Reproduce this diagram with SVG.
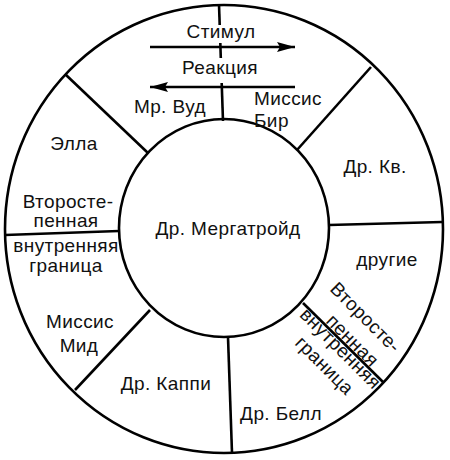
<svg xmlns="http://www.w3.org/2000/svg" width="450" height="460" viewBox="0 0 450 460">
<defs>
<style>
.ln{fill:none;stroke:#000;stroke-width:2.6;stroke-linecap:butt}
.t{font-family:"Liberation Sans",Arial,sans-serif;font-size:19px;fill:#111;text-anchor:middle;letter-spacing:0.4px}
.ts{text-anchor:start}
.ar{fill:none;stroke:#000;stroke-width:2.6}
</style>
<marker id="ah" markerUnits="userSpaceOnUse" markerWidth="20" markerHeight="12" refX="18" refY="5" orient="auto">
<path d="M0,0 L18,5 L0,10 L3,5 z" fill="#000"/>
</marker>
</defs>
<rect width="450" height="460" fill="#fff"/>
<g id="outer-ring">
<ellipse class="ln" cx="224" cy="229" rx="219" ry="224"/>
<line class="ln" x1="65" y1="74" x2="148" y2="153"/>
<line class="ln" x1="371" y1="67" x2="297" y2="150"/>
<line class="ln" x1="329" y1="225" x2="442" y2="222"/>
<line class="ln" x1="303" y1="303" x2="383" y2="382"/>
<line class="ln" x1="228" y1="337" x2="232" y2="453"/>
<line class="ln" x1="150" y1="310" x2="75" y2="390"/>
<line class="ln" x1="5" y1="235" x2="119" y2="231"/>
<line class="ln" x1="219" y1="4" x2="219.7" y2="25"/>
<line class="ln" x1="220.3" y1="43" x2="220.8" y2="58"/>
<line class="ln" x1="221.7" y1="83" x2="223" y2="121"/>
</g>
<g id="center">
<ellipse class="ln" cx="224" cy="228" rx="105" ry="109" fill="#fff"/>
<text class="t" x="228" y="235">Др. Мергатройд</text>
</g>
<g id="connectors">
<line class="ar" x1="150" y1="47" x2="295" y2="47" marker-end="url(#ah)"/>
<line class="ar" x1="295" y1="87" x2="150" y2="87" marker-end="url(#ah)"/>
<text class="t" x="221" y="38">Стимул</text>
<text class="t" x="220" y="74">Реакция</text>
</g>
<g id="mr-vud"><text class="t" x="170" y="113">Мр. Вуд</text></g>
<g id="missis-bir">
<text class="t ts" x="254" y="105">Миссис</text>
<text class="t ts" x="254" y="127">Бир</text>
</g>
<g id="dr-kv"><text class="t" x="375" y="173">Др. Кв.</text></g>
<g id="drugie"><text class="t" x="387" y="266">другие</text></g>
<g id="secondary-right">
<text class="t" transform="translate(361,322) rotate(45)">Второсте-</text>
<text class="t" transform="translate(348,345) rotate(45)">пенная</text>
</g>
<g id="inner-boundary-right">
<text class="t" transform="translate(336,353) rotate(45)">внутренняя</text>
<text class="t" transform="translate(320,370) rotate(45)">граница</text>
</g>
<g id="dr-bell"><text class="t" x="281" y="420">Др. Белл</text></g>
<g id="dr-kappi"><text class="t" x="166" y="390">Др. Каппи</text></g>
<g id="missis-mid">
<text class="t" x="80" y="328">Миссис</text>
<text class="t" x="79" y="352">Мид</text>
</g>
<g id="inner-boundary-left">
<text class="t" x="66" y="252">внутренняя</text>
<text class="t" x="66" y="272">граница</text>
</g>
<g id="secondary-left">
<text class="t" x="68" y="208">Второсте-</text>
<text class="t" x="66" y="227">пенная</text>
</g>
<g id="ella"><text class="t" x="74" y="150">Элла</text></g>
</svg>
